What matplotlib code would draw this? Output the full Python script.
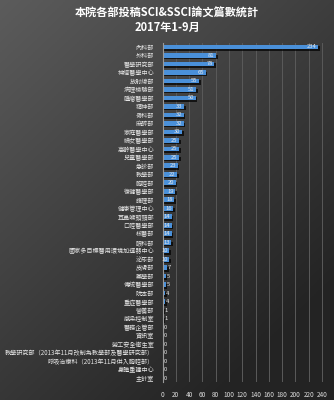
import numpy as np
import matplotlib
matplotlib.use("Agg")
import matplotlib.pyplot as plt
import matplotlib.patheffects as pe

plt.rcParams['font.family'] = ['Noto Sans CJK TC', 'DejaVu Sans']

title = "本院各部投稿SCI&SSCI論文篇數統計"
subtitle = "2017年1-9月"

categories = [
    "內科部", "外科部", "醫學研究部", "神經醫學中心", "放射線部", "病理檢驗部",
    "腫瘤醫學部", "精神部", "骨科部", "麻醉部", "家庭醫學部", "婦女醫學部",
    "高齡醫學中心", "兒童醫學部", "急診部", "教學部", "胸腔部", "復健醫學部",
    "護理部", "健康管理中心", "耳鼻喉頭頸部", "口腔醫學部", "核醫部", "眼科部",
    "國家多目標醫用環境加速器中心", "泌尿部", "皮膚部", "藥學部", "傳統醫學部",
    "院本部", "重症醫學部", "營養部", "感染控制室", "醫務企管部", "資訊室",
    "勞工安全衛生室", "教學研究部（2013年11月改制為教學部及醫學研究部）",
    "呼吸治療科（2013年11月併入胸腔部）", "身體重建中心", "主計室",
]
values = [234, 81, 78, 65, 55, 51, 50, 33, 32, 32, 30, 25, 25, 25, 23, 22, 20,
          19, 18, 16, 14, 14, 14, 13, 10, 10, 7, 5, 5, 4, 4, 1, 1, 0, 0, 0, 0,
          0, 0, 0]
xticks = list(range(0, 241, 20))

W, H = 334, 400
fig = plt.figure(figsize=(W / 100, H / 100), dpi=100)

# background gradient
bg = fig.add_axes([0, 0, 1, 1], zorder=-10)
yy, xx = np.mgrid[0:1:200j, 0:1:200j]
d = np.clip((xx * 0.8 + yy * 1.0) / 1.5, 0, 1)
shade = 0.36 - 0.22 * d
img = np.dstack([shade, shade, shade])
bg.imshow(img, extent=[0, 1, 0, 1], aspect='auto', origin='upper')
bg.axis('off')

ax = fig.add_axes([162.5 / W, 1 - 382.25 / H, (328.6 - 162.5) / W, (382.25 - 42.75) / H])
ax.patch.set_alpha(0)

y = np.arange(len(categories))
bars = ax.barh(y, values, height=0.55, color='#4a90d9', zorder=3)
for b in bars:
    b.set_path_effects([pe.SimplePatchShadow(offset=(1.2, -1.2), shadow_rgbFace='black', alpha=0.7), pe.Normal()])

ax.set_ylim(len(categories) - 0.5, -0.5)
ax.set_xlim(0, 250)
ax.set_yticks(y)
ax.set_yticklabels(categories, fontsize=4.4, color='#e6e6e6')
ax.set_xticks(xticks)
ax.set_xticklabels([str(t) for t in xticks], fontsize=4.6, color='#dddddd')
ax.tick_params(axis='y', length=0, pad=6)
ax.tick_params(axis='x', length=0, pad=6)
for s in ['top', 'right', 'bottom']:
    ax.spines[s].set_visible(False)
ax.spines['left'].set_color('#9a9a9a')
ax.spines['left'].set_linewidth(0.8)
ax.spines['left'].set_zorder(4)
ax.xaxis.grid(True, color='#5a5a5a', linewidth=0.7, zorder=0)
ax.set_axisbelow(True)

for yi, v in zip(y, values):
    if v >= 10:
        ax.text(v - 2.5, yi, str(v), ha='right', va='center', fontsize=4.2,
                color='#e8e8e8', zorder=5)
    else:
        ax.text(v + 1.5, yi, str(v), ha='left', va='center', fontsize=4.2,
                color='#e8e8e8', zorder=5)

fig.text(0.5, 1 - 13 / H, title, ha='center', va='center', fontsize=8,
         fontweight='bold', color='white')
fig.text(0.5, 1 - 27 / H, subtitle, ha='center', va='center', fontsize=8,
         fontweight='bold', color='white')

fig.savefig('out.png', dpi=100)
